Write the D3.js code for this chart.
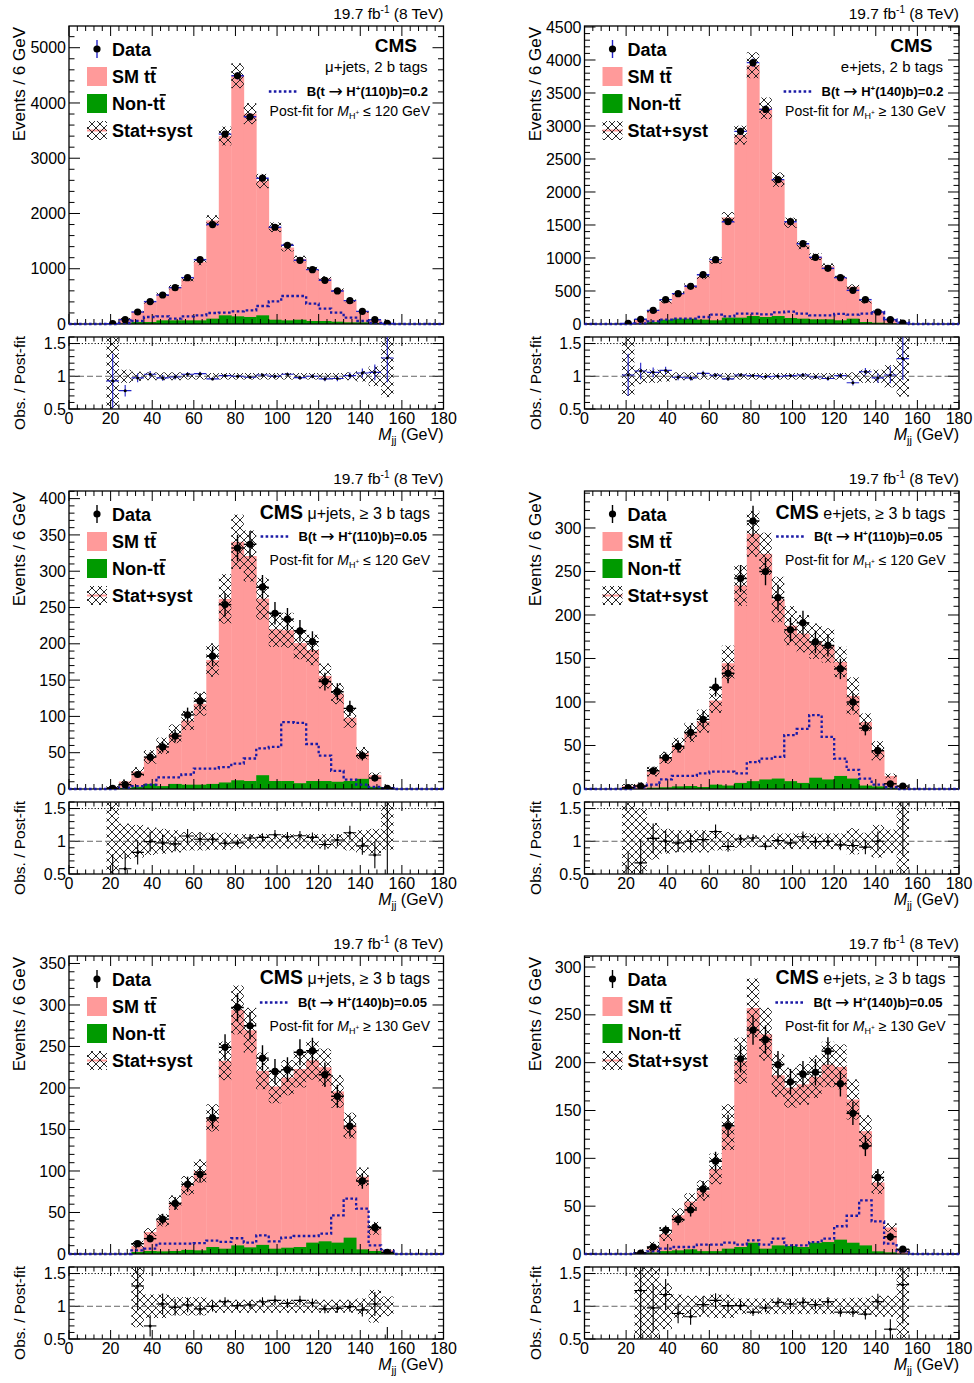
<!DOCTYPE html>
<html><head><meta charset="utf-8">
<script src="https://cdn.jsdelivr.net/npm/d3@7"></script>
<style>
body{margin:0;background:#fff;}
svg text{font-family:"Liberation Sans",Arial,Helvetica,sans-serif;fill:#000;}
</style></head><body>
<svg id="c" width="974" height="1383"></svg>
<script>
// ---------- binning & tick labels ----------
const xEdges = d3.range(0, 181, 6);            // 30 bins of 6 GeV
const xTickLabels = [0,20,40,60,80,100,120,140,160,180];
const ratioTickLabels = [0.5,1,1.5];

// ---------- panel 1: mu+jets, 2 b tags, H+(110) ----------
const data_mu2b  = [0,0,0,5,78,217,405,525,658,839,1165,1800,3436,4493,3750,2639,1751,1425,1153,984,791,598,423,229,78,12,0,0,0,0];
const ratio_mu2b = [null,null,null,0.93,0.78,0.975,1.03,0.975,0.99,1.03,1.04,0.96,1.01,1.0,0.985,1.02,1.0,1.03,0.98,1.0,0.96,0.965,1.01,1.05,1.06,1.28,null,null,null,null];
const nontt_mu2b = [0,0,0,0,10,36,36,66,66,66,66,97,157,139,127,157,78,66,78,54,54,42,30,30,18,5,0,0,0,0];
const sig_mu2b   = [0,0,0,0,18,54,127,139,97,139,157,199,205,229,248,326,411,507,507,368,278,205,115,54,18,0,0,0,0,0];
const uncDn_mu2b = [0,0,0,0.6,0.1,0.07,0.06,0.06,0.06,0.05,0.05,0.05,0.05,0.05,0.05,0.05,0.05,0.05,0.05,0.05,0.05,0.05,0.06,0.08,0.15,0.32,0,0,0,0];
const uncUp_mu2b = [0,0,0,0.7,0.1,0.07,0.06,0.06,0.06,0.05,0.05,0.05,0.05,0.05,0.05,0.05,0.05,0.05,0.05,0.05,0.05,0.05,0.06,0.08,0.15,0.7,0,0,0,0];

// ---------- panel 2: e+jets, 2 b tags, H+(140) ----------
const data_e2b  = [0,0,0,10,71,207,369,460,571,747,975,1550,2919,3960,3252,2187,1550,1217,1010,843,702,510,369,182,66,15,0,0,0,0];
const ratio_e2b = [null,null,null,1.02,1.08,1.06,1.09,0.985,0.975,1.045,1.015,0.96,1.02,1.01,0.995,1.0,1.01,1.02,0.99,0.965,1.01,0.90,1.07,0.975,1.02,1.27,null,null,null,null];
const nontt_e2b = [0,0,0,0,5,30,66,81,81,66,56,96,96,121,106,121,91,81,71,71,56,81,30,20,10,0,0,0,0,0];
const sig_e2b   = [0,0,0,0,10,40,66,81,81,106,141,116,157,157,146,177,187,157,131,131,152,141,157,182,71,20,0,0,0,0];
const uncDn_e2b = [0,0,0,0.3,0.12,0.1,0.08,0.06,0.06,0.05,0.05,0.05,0.05,0.05,0.05,0.05,0.05,0.05,0.05,0.05,0.05,0.06,0.1,0.1,0.17,0.31,0,0,0,0];
const uncUp_e2b = [0,0,0,0.7,0.12,0.1,0.08,0.06,0.06,0.05,0.05,0.05,0.05,0.05,0.05,0.05,0.05,0.05,0.05,0.05,0.05,0.06,0.1,0.1,0.17,0.7,0,0,0,0];

// ---------- panel 3: mu+jets, >=3 b tags, H+(110) ----------
const data_mu3a  = [0,0,0,1,6,20,44,58,73,102,121,183,254,332,337,278,242,234,218,203,148,134,111,46,15,1,0,0,0,0];
const ratio_mu3a = [null,null,null,0.4,0.58,0.83,0.995,0.975,0.96,1.08,1.03,1.03,0.97,0.975,1.05,1.06,1.10,1.07,1.085,1.06,0.95,1.02,1.13,0.93,0.79,2.0,null,null,null,null];
const nontt_mu3a = [0,0,0,0,1.4,3,7,4,7,6,6,7,9,12,11,19,11,11,8,11,11,10,11,14,3,1,0,0,0,0];
const sig_mu3a   = [0,0,0,0,2,4,6,16,16,20,28,28,30,35,42,56,58,92,91,62,46,25,13,6,3,1,0,0,0,0];
const uncDn_mu3a = [0,0,0,0.6,0.27,0.25,0.21,0.19,0.17,0.14,0.14,0.13,0.13,0.11,0.11,0.11,0.11,0.11,0.11,0.11,0.11,0.11,0.14,0.17,0.19,0.13,0,0,0,0];
const uncUp_mu3a = [0,0,0,0.7,0.27,0.25,0.21,0.19,0.17,0.14,0.14,0.13,0.13,0.11,0.11,0.11,0.11,0.11,0.11,0.11,0.11,0.11,0.14,0.17,0.19,0.7,0,0,0,0];

// ---------- panel 4: e+jets, >=3 b tags, H+(110) ----------
const data_e3a  = [0,0,0,1.5,3.4,21,36,49,65,80,117,133,242,308,250,220,183,191,169,165,138,100,70,44,6,3.4,0,0,0,0];
const ratio_e3a = [null,null,null,0.45,0.67,1.045,1.0,0.975,1.0,1.025,1.15,0.92,1.035,1.05,0.925,1.01,0.975,1.07,0.995,1.0,0.945,0.935,0.91,1.0,0.4,1.7,null,null,null,null];
const nontt_e3a = [0,0,0,0,0,1.5,2,3,3.4,2.3,5,4,7,9,11,12,9,7,13,11,15,12,4,3,1.5,0,0,0,0,0];
const sig_e3a   = [0,0,0,0,2,5,11,15,15,18,20,20,18,31,35,37,62,69,85,60,35,22,12,5,2,0,0,0,0,0];
const uncDn_e3a = [0,0,0,0.6,0.5,0.28,0.19,0.17,0.17,0.17,0.14,0.14,0.1,0.09,0.09,0.12,0.12,0.12,0.12,0.12,0.12,0.2,0.13,0.25,0.18,0.6,0,0,0,0];
const uncUp_e3a = [0,0,0,0.7,0.5,0.28,0.19,0.17,0.17,0.17,0.14,0.14,0.1,0.09,0.09,0.12,0.12,0.12,0.12,0.12,0.12,0.2,0.13,0.25,0.18,0.7,0,0,0,0];

// ---------- panel 5: mu+jets, >=3 b tags, H+(140) ----------
const data_mu3b  = [0,0,0,0,0,12.4,18.5,42,61,84,96,164,249,297,275,236,220,222,243,245,216,190,154,88,32,2,0,0,0,0];
const ratio_mu3b = [null,null,null,null,null,1.31,0.70,1.035,0.985,1.02,0.96,1.0,1.07,1.01,1.02,1.07,1.09,1.045,1.09,1.05,0.96,0.97,0.995,0.945,1.035,0.4,null,null,null,null];
const nontt_mu3b = [0,0,0,0,0,2.4,3.6,3.2,3.6,5,4.4,8.4,6.4,10.4,8,11,6.4,7.6,8.4,13.7,15.3,13.7,19.7,5.6,3.6,1.6,0,0,0,0];
const sig_mu3b   = [0,0,0,0,0,4.4,6.4,12.4,12.4,12.4,13,16,14.5,19,13.7,22.5,15.3,19.7,21.7,21.7,24.5,46.6,66.7,54.6,10.4,3.6,0,0,0,0];
const uncDn_mu3b = [0,0,0,0,0,0.32,0.18,0.18,0.14,0.14,0.14,0.1,0.1,0.1,0.1,0.1,0.1,0.1,0.1,0.1,0.1,0.1,0.1,0.12,0.25,0.15,0,0,0,0];
const uncUp_mu3b = [0,0,0,0,0,0.7,0.18,0.18,0.14,0.14,0.14,0.1,0.1,0.1,0.1,0.1,0.1,0.1,0.1,0.1,0.1,0.1,0.1,0.12,0.25,0.15,0,0,0,0];

// ---------- panel 6: e+jets, >=3 b tags, H+(140) ----------
const data_e3b  = [0,0,0,0,1,7.3,24.7,36,46,68,97,134,204,234,224,198,180,188,190,212,178,147,113,80,18,5,0,0,0,0];
const ratio_e3b = [null,null,null,null,1.24,0.975,1.18,0.89,0.84,1.025,1.09,1.01,1.01,0.91,0.975,1.06,1.035,1.06,1.025,1.07,0.91,0.91,0.88,1.07,0.65,1.33,null,null,null,null];
const nontt_e3b = [0,0,0,0,0,1.7,3,3.8,4.9,3,3,5.6,7.3,11.8,5.6,9,8.4,7.3,11.8,12.5,15,11.8,9,2.8,1.7,0,0,0,0,0];
const sig_e3b   = [0,0,0,0,1,2.8,5.6,7.3,7.3,9.8,9.8,11.8,9.8,14.3,9.8,16,9,9,12.5,16,29,40,56,34,10.8,2.8,0,0,0,0];
const uncDn_e3b = [0,0,0,0,0.6,0.6,0.35,0.18,0.16,0.16,0.18,0.18,0.12,0.12,0.12,0.12,0.12,0.12,0.12,0.12,0.12,0.13,0.13,0.16,0.16,0.6,0,0,0,0];
const uncUp_e3b = [0,0,0,0,0.7,0.7,0.35,0.18,0.16,0.16,0.18,0.18,0.12,0.12,0.12,0.12,0.12,0.12,0.12,0.12,0.12,0.13,0.13,0.16,0.16,0.7,0,0,0,0];

// ---------- per-panel labels ----------
const channelLeptons = ["μ+jets","e+jets","μ+jets","e+jets","μ+jets","e+jets"];
const channelTags    = ["2 b tags","2 b tags","≥ 3 b tags","≥ 3 b tags","≥ 3 b tags","≥ 3 b tags"];
const signalMass     = ["110","140","110","110","140","140"];
const signalBR       = ["0.2","0.2","0.05","0.05","0.05","0.05"];
const postFitCut     = ["≤ 120","≥ 130","≤ 120","≤ 120","≥ 130","≥ 130"];
const yAxisMax       = [5393,4515,410.5,342.5,359,311.5];
const yMajorStep     = [1000,500,50,50,50,50];
const yMinorStep     = [200,100,10,10,10,10];

const panels = [
  {data:data_mu2b,ratio:ratio_mu2b,non:nontt_mu2b,sig:sig_mu2b,dn:uncDn_mu2b,up:uncUp_mu2b},
  {data:data_e2b, ratio:ratio_e2b, non:nontt_e2b, sig:sig_e2b, dn:uncDn_e2b, up:uncUp_e2b},
  {data:data_mu3a,ratio:ratio_mu3a,non:nontt_mu3a,sig:sig_mu3a,dn:uncDn_mu3a,up:uncUp_mu3a},
  {data:data_e3a, ratio:ratio_e3a, non:nontt_e3a, sig:sig_e3a, dn:uncDn_e3a, up:uncUp_e3a},
  {data:data_mu3b,ratio:ratio_mu3b,non:nontt_mu3b,sig:sig_mu3b,dn:uncDn_mu3b,up:uncUp_mu3b},
  {data:data_e3b, ratio:ratio_e3b, non:nontt_e3b, sig:sig_e3b, dn:uncDn_e3b, up:uncUp_e3b}
];

// ---------- styles ----------
const PINK = "#ff9a9a", GREEN = "#009a00", SIGBLUE = "#1a1aa6";
const svg = d3.select("#c");
const defs = svg.append("defs");
const pat = defs.append("pattern").attr("id","hatch").attr("patternUnits","userSpaceOnUse")
  .attr("width",8).attr("height",8);
pat.append("path").attr("d","M0,0L8,8M8,0L0,8M-1,1L1,-1M7,9L9,7M-1,7L1,9M7,-1L9,1")
  .attr("stroke","#1e1e1e").attr("stroke-width",0.95).attr("fill","none");

function ttbar(g, xx, yy, prefix, size) {
  const t = g.append("text").attr("x",xx).attr("y",yy).attr("font-weight","bold")
    .attr("font-size",size).text(prefix + "tt");
  const n = (prefix + "tt").length;
  const node = t.node();
  const s = node.getStartPositionOfChar(n-1).x, e = node.getEndPositionOfChar(n-1).x;
  g.append("line").attr("x1",s+0.8).attr("x2",e+0.8).attr("y1",yy-size*0.84).attr("y2",yy-size*0.84)
    .attr("stroke","#000").attr("stroke-width",1.7);
}

panels.forEach((p, idx) => {
  const row = Math.floor(idx/2), col = idx % 2;
  const x0 = col === 0 ? 69 : 584.5, x1 = col === 0 ? 443.5 : 959;
  const top = 26 + 465*row, bot = 324 + 465*row, rTop = 337 + 465*row, rBot = 409 + 465*row;
  const blue = row === 0;
  const errCol = blue ? "#2323c8" : "#000";
  const x = d3.scaleLinear().domain([0,180]).range([x0,x1]);
  const y = d3.scaleLinear().domain([0,yAxisMax[idx]]).range([bot,top]);
  const yr = d3.scaleLinear().domain([0.5,1.6]).range([rBot,rTop]);

  const bins = d3.range(30).map(i => {
    const pred = (p.ratio[i] != null && p.data[i] > 0) ? p.data[i]/p.ratio[i] : 0;
    return {i, lo:xEdges[i], hi:xEdges[i+1], c:(xEdges[i]+xEdges[i+1])/2, data:p.data[i],
            ratio:p.ratio[i], pred, non:p.non[i], sig:p.sig[i], dn:p.dn[i], up:p.up[i]};
  });
  const predBins = bins.filter(b => b.pred > 0);
  const dataBins = bins.filter(b => b.data > 0);

  const cm = "cm"+idx, cr = "cr"+idx;
  defs.append("clipPath").attr("id",cm).append("rect").attr("x",x0).attr("y",top).attr("width",x1-x0).attr("height",bot-top);
  defs.append("clipPath").attr("id",cr).append("rect").attr("x",x0).attr("y",rTop).attr("width",x1-x0).attr("height",rBot-rTop);

  // ===== main panel =====
  const gm = svg.append("g").attr("clip-path",`url(#${cm})`);
  gm.selectAll("rect.tt").data(predBins).join("rect").attr("class","tt")
    .attr("x",b=>x(b.lo)).attr("width",b=>x(b.hi)-x(b.lo)+0.4)
    .attr("y",b=>y(b.pred)).attr("height",b=>y(0)-y(b.pred)).attr("fill",PINK);
  gm.selectAll("rect.non").data(bins.filter(b=>b.non>0)).join("rect").attr("class","non")
    .attr("x",b=>x(b.lo)).attr("width",b=>x(b.hi)-x(b.lo)+0.4)
    .attr("y",b=>y(b.non)).attr("height",b=>y(0)-y(b.non)).attr("fill",GREEN);
  gm.selectAll("rect.unc").data(predBins).join("rect").attr("class","unc")
    .attr("x",b=>x(b.lo)).attr("width",b=>x(b.hi)-x(b.lo))
    .attr("y",b=>y(b.pred*(1+b.up))).attr("height",b=>y(b.pred*(1-b.dn))-y(b.pred*(1+b.up)))
    .attr("fill","url(#hatch)");

  // frame + ticks (main)
  const fr = svg.append("g").attr("stroke","#000").attr("fill","none");
  fr.append("rect").attr("x",x0).attr("y",top).attr("width",x1-x0).attr("height",bot-top).attr("stroke-width",1.3);
  for (let v = 0; v <= 180; v += 4) {
    const L = v % 20 === 0 ? 10 : 5;
    fr.append("line").attr("x1",x(v)).attr("x2",x(v)).attr("y1",top).attr("y2",top+L).attr("stroke-width",1);
    fr.append("line").attr("x1",x(v)).attr("x2",x(v)).attr("y1",bot).attr("y2",bot-L).attr("stroke-width",1);
    fr.append("line").attr("x1",x(v)).attr("x2",x(v)).attr("y1",rTop).attr("y2",rTop+(v%20===0?9:4.5)).attr("stroke-width",1);
    fr.append("line").attr("x1",x(v)).attr("x2",x(v)).attr("y1",rBot).attr("y2",rBot-(v%20===0?9:4.5)).attr("stroke-width",1);
  }
  const per = yMajorStep[idx]/yMinorStep[idx];
  for (let k = 0; k*yMinorStep[idx] <= yAxisMax[idx]; k++) {
    const v = k*yMinorStep[idx];
    const L = k % per === 0 ? 11 : 5.5;
    fr.append("line").attr("x1",x0).attr("x2",x0+L).attr("y1",y(v)).attr("y2",y(v)).attr("stroke-width",1);
    fr.append("line").attr("x1",x1).attr("x2",x1-L).attr("y1",y(v)).attr("y2",y(v)).attr("stroke-width",1);
    if (k % per === 0) {
      svg.append("text").attr("x",x0-3).attr("y",y(v)+5.6).attr("text-anchor","end")
        .attr("font-size",16).text(v);
    }
  }

  // signal dotted step line
  const sigPts = p.sig.map((s,i)=>[xEdges[i],s]).concat([[180,p.sig[29]]]);
  svg.append("path").attr("d", d3.line().x(d=>x(d[0])).y(d=>y(d[1])).curve(d3.curveStepAfter)(sigPts))
    .attr("fill","none").attr("stroke",SIGBLUE).attr("stroke-width",2.3).attr("stroke-dasharray","2.6,2.4");

  // data points
  const gd = svg.append("g").attr("clip-path",`url(#${cm})`);
  gd.selectAll("line.eh").data(dataBins).join("line").attr("class","eh")
    .attr("x1",b=>x(b.lo)).attr("x2",b=>x(b.hi)).attr("y1",b=>y(b.data)).attr("y2",b=>y(b.data))
    .attr("stroke",errCol).attr("stroke-width",1.4);
  gd.selectAll("line.ev").data(dataBins).join("line").attr("class","ev")
    .attr("x1",b=>x(b.c)).attr("x2",b=>x(b.c))
    .attr("y1",b=>y(b.data+Math.sqrt(b.data))).attr("y2",b=>y(Math.max(0,b.data-Math.sqrt(b.data))))
    .attr("stroke",errCol).attr("stroke-width",1.4);
  gd.selectAll("circle").data(dataBins).join("circle")
    .attr("cx",b=>x(b.c)).attr("cy",b=>y(b.data)).attr("r",3.6).attr("fill","#000");

  // ===== ratio panel =====
  const gr = svg.append("g").attr("clip-path",`url(#${cr})`);
  gr.selectAll("rect.runc").data(predBins).join("rect").attr("class","runc")
    .attr("x",b=>x(b.lo)).attr("width",b=>x(b.hi)-x(b.lo))
    .attr("y",b=>yr(1+b.up)).attr("height",b=>yr(1-b.dn)-yr(1+b.up)).attr("fill","url(#hatch)");
  gr.append("line").attr("x1",x0).attr("x2",x1).attr("y1",yr(1.5)).attr("y2",yr(1.5))
    .attr("stroke","#000").attr("stroke-width",1).attr("stroke-dasharray","1.2,2");
  gr.append("line").attr("x1",x0).attr("x2",x1).attr("y1",yr(1)).attr("y2",yr(1))
    .attr("stroke","#555").attr("stroke-width",0.9).attr("stroke-dasharray","6,3");
  const rb = predBins.filter(b => b.ratio != null);
  gr.selectAll("line.rh").data(rb).join("line").attr("class","rh")
    .attr("x1",b=>x(b.lo)).attr("x2",b=>x(b.hi)).attr("y1",b=>yr(b.ratio)).attr("y2",b=>yr(b.ratio))
    .attr("stroke",errCol).attr("stroke-width",1.1);
  gr.selectAll("line.rv").data(rb).join("line").attr("class","rv")
    .attr("x1",b=>x(b.c)).attr("x2",b=>x(b.c))
    .attr("y1",b=>yr(b.ratio+Math.sqrt(b.data)/b.pred)).attr("y2",b=>yr(b.ratio-Math.sqrt(b.data)/b.pred))
    .attr("stroke",errCol).attr("stroke-width",1.1);
  gr.selectAll("circle").data(rb).join("circle")
    .attr("cx",b=>x(b.c)).attr("cy",b=>yr(b.ratio)).attr("r",1.5).attr("fill","#000");

  fr.append("rect").attr("x",x0).attr("y",rTop).attr("width",x1-x0).attr("height",rBot-rTop).attr("stroke-width",1.3);
  for (let k = 0; k <= 11; k++) {
    const v = 0.5 + 0.1*k;
    const L = k % 5 === 0 ? 11 : 5.5;
    fr.append("line").attr("x1",x0).attr("x2",x0+L).attr("y1",yr(v)).attr("y2",yr(v)).attr("stroke-width",1);
    fr.append("line").attr("x1",x1).attr("x2",x1-L).attr("y1",yr(v)).attr("y2",yr(v)).attr("stroke-width",1);
  }
  ratioTickLabels.forEach(v => {
    svg.append("text").attr("x",x0-3).attr("y",yr(v)+5.6).attr("text-anchor","end").attr("font-size",16).text(v);
  });
  xTickLabels.forEach(v => {
    svg.append("text").attr("x",x(v)).attr("y",rBot+14.5).attr("text-anchor","middle").attr("font-size",16).text(v);
  });

  // axis titles
  svg.append("text").attr("transform",`translate(${x0-44},${top+1}) rotate(-90)`).attr("text-anchor","end")
    .attr("font-size",17).text("Events / 6 GeV");
  svg.append("text").attr("transform",`translate(${x0-44},${rTop-1}) rotate(-90)`).attr("text-anchor","end")
    .attr("font-size",15.5).text("Obs. / Post-fit");
  const mt = svg.append("text").attr("x",x1).attr("y",rBot+31).attr("text-anchor","end").attr("font-size",16);
  mt.append("tspan").attr("font-style","italic").text("M");
  mt.append("tspan").attr("dy",4).attr("font-size",11).text("jj");
  mt.append("tspan").attr("dy",-4).text(" (GeV)");

  // luminosity label
  const lt = svg.append("text").attr("x",x1).attr("y",top-7).attr("text-anchor","end").attr("font-size",15.5);
  lt.append("tspan").text("19.7 fb");
  lt.append("tspan").attr("dy",-6).attr("font-size",10).text("-1");
  lt.append("tspan").attr("dy",6).text(" (8 TeV)");

  // ===== legend (left) =====
  const lg = svg.append("g");
  lg.append("line").attr("x1",x0+28).attr("x2",x0+28).attr("y1",top+14).attr("y2",top+32)
    .attr("stroke",errCol).attr("stroke-width",1.4);
  lg.append("circle").attr("cx",x0+28).attr("cy",top+23).attr("r",3.6).attr("fill","#000");
  lg.append("text").attr("x",x0+43).attr("y",top+29.5).attr("font-weight","bold").attr("font-size",18).text("Data");
  lg.append("rect").attr("x",x0+18).attr("y",top+41).attr("width",20).attr("height",19).attr("fill",PINK);
  ttbar(lg, x0+43, top+57, "SM ", 18);
  lg.append("rect").attr("x",x0+18).attr("y",top+68).attr("width",20).attr("height",19).attr("fill",GREEN);
  ttbar(lg, x0+43, top+84, "Non-", 18);
  lg.append("rect").attr("x",x0+18).attr("y",top+95).attr("width",20).attr("height",19).attr("fill","#fff");
  lg.append("line").attr("x1",x0+18).attr("x2",x0+38).attr("y1",top+104.5).attr("y2",top+104.5)
    .attr("stroke",PINK).attr("stroke-width",2);
  lg.append("rect").attr("x",x0+18).attr("y",top+95).attr("width",20).attr("height",19).attr("fill","url(#hatch)");
  lg.append("text").attr("x",x0+43).attr("y",top+111).attr("font-weight","bold").attr("font-size",18).text("Stat+syst");

  // ===== right-hand labels =====
  let sigBase, postBase, sigRight;
  if (row === 0) {
    svg.append("text").attr("x",x1-26.5).attr("y",top+26).attr("text-anchor","end")
      .attr("font-weight","bold").attr("font-size",19).text("CMS");
    svg.append("text").attr("x",x1-16).attr("y",top+46).attr("text-anchor","end")
      .attr("font-size",15).text(channelLeptons[idx] + ", " + channelTags[idx]);
    sigBase = top+70; postBase = top+90; sigRight = x1-15.5;
  } else {
    const ct = svg.append("text").attr("x",x1-13.5).attr("y",top+28).attr("text-anchor","end");
    ct.append("tspan").attr("font-weight","bold").attr("font-size",19.5).text("CMS");
    ct.append("tspan").attr("font-size",16).text(" " + channelLeptons[idx] + ", " + channelTags[idx]);
    sigBase = top + (row === 1 ? 50 : 51); postBase = top + (row === 1 ? 74 : 75); sigRight = x1-16.5;
  }
  const st = svg.append("text").attr("x",sigRight).attr("y",sigBase).attr("text-anchor","end")
    .attr("font-weight","bold").attr("font-size",13);
  st.append("tspan").text("B(t  ");
  st.append("tspan").attr("font-family","'DejaVu Sans'").attr("font-weight","normal").attr("font-size",17).attr("dy",1).text("\u2192");
  st.append("tspan").attr("dy",-1).text(" H");
  st.append("tspan").attr("dy",-5).attr("font-size",8).text("+");
  st.append("tspan").attr("dy",5).text("(" + signalMass[idx] + ")b)=" + signalBR[idx]);
  const sb = st.node().getBBox();
  svg.append("line").attr("x1",sb.x-38).attr("x2",sb.x-9).attr("y1",sigBase-4.5).attr("y2",sigBase-4.5)
    .attr("stroke",SIGBLUE).attr("stroke-width",2.3).attr("stroke-dasharray","2.6,2.4");
  const pt = svg.append("text").attr("x",x1-13.5).attr("y",postBase).attr("text-anchor","end").attr("font-size",14);
  pt.append("tspan").text("Post-fit for ");
  pt.append("tspan").attr("font-style","italic").text("M");
  pt.append("tspan").attr("dy",3).attr("font-size",9).text("H");
  pt.append("tspan").attr("dy",-4).attr("font-size",6.5).text("+");
  pt.append("tspan").attr("dy",1).text(" " + postFitCut[idx] + " GeV");
});
</script>
</body></html>
